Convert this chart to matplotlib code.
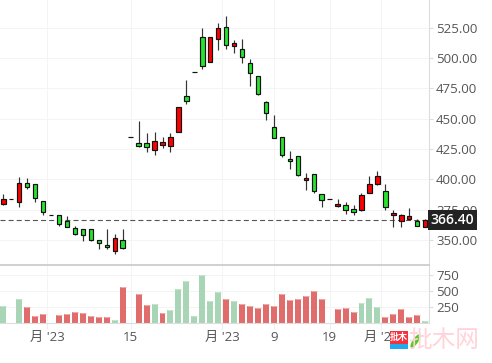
import matplotlib
matplotlib.use('Agg')
import matplotlib.pyplot as plt
from matplotlib.patches import Rectangle, Ellipse

plt.rcParams['font.family'] = ['Open Sans', 'Noto Sans CJK SC', 'DejaVu Sans']

opens = [379.9, 383.5, 381.5, 396.7, 395.8, 381.8, 370.3, 370.3, 365.9, 359.6, 359.3, 358.8, 349.7, 345.6, 340.7, 349.7, 434.8, 429.6,
         430.1, 423.9, 428.5, 427.1, 438.7, 468.3, 488.1, 516.9, 496.3, 515.3, 525.2, 509.5, 507.0, 495.5, 484.8, 463.4, 442.8, 434.6,
         416.4, 418.9, 399.1, 404.1, 387.6, 383.5, 377.7, 378.6, 375.2, 374.4, 388.4, 395.8, 390.1, 370.3, 365.4, 367.0, 365.4, 360.4]
highs = [387.6, 383.5, 401.6, 400.8, 395.8, 381.8, 370.3, 370.3, 369.5, 361.2, 359.3, 358.8, 349.7, 358.8, 354.7, 358.8, 434.8, 447.7,
         437.8, 438.6, 434.6, 437.8, 459.3, 481.5, 488.1, 524.3, 516.9, 528.5, 534.2, 514.5, 515.3, 498.8, 484.8, 464.2, 452.7, 434.6,
         423.0, 418.9, 404.9, 404.1, 387.6, 383.5, 383.5, 381.0, 378.6, 388.4, 402.4, 406.6, 395.8, 374.4, 371.1, 376.1, 367.0, 367.0]
lows = [379.0, 383.5, 377.4, 391.7, 381.0, 370.8, 370.3, 361.7, 360.4, 353.8, 348.9, 348.9, 342.3, 342.3, 338.2, 342.3, 434.8, 426.3,
        422.2, 419.7, 425.5, 422.2, 438.7, 461.7, 488.1, 490.6, 496.3, 506.2, 507.0, 503.7, 495.5, 476.6, 469.2, 448.6, 433.7, 418.1,
        408.2, 402.4, 390.9, 388.4, 376.9, 383.5, 376.9, 371.1, 370.3, 373.6, 388.4, 395.0, 374.4, 360.4, 360.4, 366.2, 361.3, 360.4]
closes = [383.5, 383.5, 396.7, 393.9, 384.3, 373.3, 370.3, 363.4, 360.4, 354.7, 353.8, 350.2, 347.7, 344.0, 351.4, 343.6, 434.8, 427.6,
          426.3, 431.3, 430.4, 434.6, 459.3, 464.2, 488.1, 493.0, 516.9, 524.3, 510.3, 512.0, 500.4, 487.3, 470.0, 454.3, 433.7, 419.7,
          414.8, 403.3, 400.8, 390.1, 382.6, 383.5, 379.4, 374.4, 372.8, 386.8, 395.8, 402.4, 376.9, 371.9, 370.3, 369.5, 361.3, 366.4]
volumes = [270, 0, 380, 255, 115, 145, 0, 130, 145, 175, 160, 115, 100, 100, 50, 565, 0, 460,
           285, 300, 160, 210, 535, 660, 110, 755, 350, 490, 380, 350, 300, 270, 240, 300, 270, 460,
           365, 380, 425, 505, 380, 0, 225, 240, 175, 315, 395, 255, 100, 145, 225, 100, 130, 35]
vol_up = [1, 0, 1, 0, 0, 0, 0, 0, 0, 0, 0, 0, 0, 0, 1, 0, 0, 0,
          0, 1, 0, 1, 1, 1, 1, 1, 1, 1, 0, 1, 0, 0, 0, 0, 0, 0,
          0, 0, 0, 0, 0, 0, 0, 0, 0, 1, 1, 1, 0, 0, 0, 0, 0, 1]
price_ticks = [350, 375, 400, 425, 450, 475, 500, 525]
volume_ticks = [250, 500, 750]
date_ticks = [5.55, 16.0, 27.5, 34.0, 41.0, 47.5]
date_labels = ["月 '23", "15", "月 '23", "9", "19", "月 '23"]
last_price = 366.40

W, H = 492, 363
fig = plt.figure(figsize=(W / 100, H / 100), dpi=100)
ax = fig.add_axes([0, 1 - 265 / H, 429 / W, 265 / H])
ax2 = fig.add_axes([0, 1 - 323 / H, 429 / W, 57 / H])

x = list(range(len(opens)))
for a in (ax, ax2):
    a.set_xlim(-0.415, 53.48)
    a.set_xticks(date_ticks)
    a.grid(True, color='#f4f4f4', lw=0.72)
    a.set_axisbelow(True)
    a.yaxis.tick_right()
    for s in ('top', 'left'):
        a.spines[s].set_visible(False)
    a.spines['right'].set_color('#dddddd')
    a.spines['bottom'].set_color('#dddddd')
    a.tick_params(axis='y', length=3, color='#dddddd', labelcolor='#555555', labelsize=9.5, pad=2)

# price pane
ax.set_ylim(329.4, 547.65)
ax.set_yticks(price_ticks)
ax.set_yticklabels([f'{p:.2f}' for p in price_ticks])
ax.tick_params(axis='x', length=0, labelbottom=False)
ax.spines['bottom'].set_color('#d0d0d0')
ax.spines['bottom'].set_linewidth(1.4)
ax.axhline(last_price, color='#555555', lw=0.8, dashes=(4.5, 2.8), zorder=1)
ax.vlines(x, lows, highs, color='#333333', lw=0.85, zorder=2)
colors = ['#ff0000' if c >= o else '#27e22f' for o, c in zip(opens, closes)]
bottoms = [min(o, c) for o, c in zip(opens, closes)]
heights = [abs(c - o) for o, c in zip(opens, closes)]
ax.bar(x, heights, bottom=bottoms, width=0.56, color=colors, edgecolor='#111111', linewidth=0.85, zorder=3)
ax.text(452.5 / 429, last_price, f'{last_price:.2f}', transform=ax.get_yaxis_transform(), ha='center', va='center',
        color='white', fontsize=10, fontweight='semibold', zorder=6, clip_on=False,
        bbox=dict(boxstyle='square,pad=0.2', fc='#222222', ec='none'))

# volume pane
ax2.set_ylim(0, 890)
ax2.set_yticks(volume_ticks)
vol_colors = ['#a8d5b5' if u else '#e06c6c' for u in vol_up]
cap_colors = ['#c5e4ce' if u else '#f0a8a8' for u in vol_up]
ax2.bar(x, volumes, width=0.75, color=vol_colors, zorder=2)
ax2.hlines([v if v else float('nan') for v in volumes], [i - 0.375 for i in x], [i + 0.375 for i in x], colors=cap_colors, lw=0.72, zorder=3)
ax2.set_xticklabels(date_labels)
ax2.tick_params(axis='x', length=4, color='#eeeeee', labelcolor='#555555', labelsize=9.5, pad=1.5)

# watermark logo
fig.add_artist(Rectangle((390 / W, 1 - 344 / H), 18 / W, 13 / H, transform=fig.transFigure, fc='#f5333f', ec='none'))
fig.add_artist(Rectangle((390 / W, 1 - 349 / H), 18 / W, 5 / H, transform=fig.transFigure, fc='#22aaee', ec='none'))
fig.text(399 / W, 1 - 337.5 / H, '批木', color='white', fontsize=6.5, fontweight='bold', ha='center', va='center')
fig.add_artist(Ellipse((415.5 / W, 1 - 341 / H), 6 / W, 15 / H, angle=-25, transform=fig.transFigure, fc='#55cc22', ec='none'))
fig.text(444 / W, 1 - 341 / H, '批木网', color='#ffd3d9', fontsize=17, ha='center', va='center')

fig.savefig('out.png', dpi=100)
